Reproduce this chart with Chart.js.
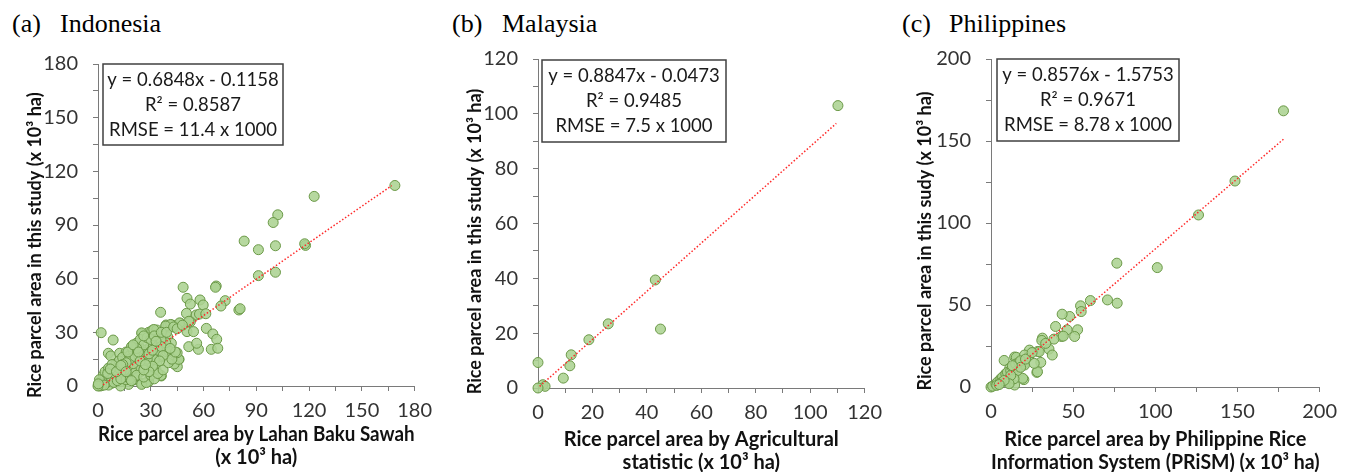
<!DOCTYPE html>
<html>
<head>
<meta charset="utf-8">
<script src="https://cdn.jsdelivr.net/npm/chart.js@4"></script>
<style>
  body { margin: 0; width: 1345px; height: 472px; overflow: hidden; background: #fff; position: relative; }
  .panel { position: absolute; top: 0; height: 472px; }
  .cap { position: absolute; top: 11px; font-family: 'Liberation Serif', 'Times New Roman', serif; font-size: 26px; line-height: 26px; color: #000; white-space: pre; }
</style>
</head>
<body>
<div class="cap" style="left:12px">(a)</div><div class="cap" style="left:60px">Indonesia</div>
<div class="cap" style="left:452px">(b)</div><div class="cap" style="left:502px">Malaysia</div>
<div class="cap" style="left:902px">(c)</div><div class="cap" style="left:949px">Philippines</div>

<div class="panel" style="left:0;width:440px"><canvas id="chartA"></canvas></div>
<div class="panel" style="left:450px;width:440px"><canvas id="chartB"></canvas></div>
<div class="panel" style="left:900px;width:445px"><canvas id="chartC"></canvas></div>

<script>
// (a) Indonesia: [Lahan Baku Sawah, this study] in 10^3 ha
var indonesiaPts = [
  [168.8,112.1],[122.9,106],[102.2,95.7],[99.6,91.4],[83.1,81],[91.2,76.2],[100.9,78.4],[118,78.6],[117.5,79.5],
  [91.2,61.7],[100.9,63.6],[48.4,55.2],[67.2,55.9],[66.8,55.2],[50.6,49],[52.5,45.8],[58,48.1],[59.8,45.3],
  [72.3,47.7],[69.9,44.7],[80.1,42.5],[80.8,43.2],[35.6,41.2],[50.3,40.6],[55.8,39.7],[57.7,40.2],[61.3,40.4],
  [38.7,34.1],[41.5,34.1],[47,35],[52.5,35.9],[50.6,30.4],[54.3,30.4],[61.6,32.2],[65.3,29.1],[67.5,26.1],
  [64.4,20.5],[68.1,21.1],[51.6,22],[57.1,20.5],[56.1,23.9],[31.4,30.9],[36.9,28.5],[39.6,27.5],[35.6,25.3],
  [43.3,18.3],[46.1,14.9],[45.1,10.8],[43.3,12.3],[36,5.6],[32.3,8.9],[38.7,20.1],[33.2,18.3],
  [1.8,29.8],[8.6,25.7],[5.9,18.3],[7.3,16.8],[12.3,18.3],[16,19],[25.1,29.1],[28.8,30],[30.6,30.9],[33.4,31.3],
  [39.8,33.5],[42.5,34],[24.2,21.1],[27,20.1],[29.7,22],[22.4,18.3],[20.5,14.5],[17.8,13.6],[15,11.7],[11.4,10.8],
  [7.7,8.9],[5,6.1],[2.2,3.4],[0.4,1],[4,1.5],[9.5,4.3],[14.1,5.2],[18.7,7.1],[24.2,8],[27.9,10.8],[33.4,12.7],
  [36.2,16.4],[38.9,19.2],[41.7,23.9],[33.4,22],[35.2,25.7],[31.6,16.4],[26,13.6],[16.9,7.1],[20.5,3.4],[25.1,1.5],
  [28.8,2.4],[13.2,2.4],[7.7,1.5],[24.8,0.9],[27.5,1.9],[17.4,0.9],[12.8,0],[35.8,5.9],[45.9,14.9],[45,18.6],
  [40.4,19.5],[38.5,24.2],[35.8,26],[30.3,24.2],[23,22.3],[26.6,18.6],[32.1,14.9],[28.4,11.2],[33,9.3],[19.3,11.2],
  [15.6,7.4],[21.1,5.6],[24.8,29.7],[46.4,35.3],[51.7,36.2],[41.3,34.4],[38.5,33.5],[31.7,31.6],
  [10,12],[12,14],[14,16],[18,17],[20,20],[22,24],[24,26],[26,23],[28,27],[30,26],[32,28],[34,20],[36,22],[30,19],
  [28,15],[25,17],[23,13],[21,10],[19,9],[17,11],[15,9],[13,8],[11,6],[9,7],[8,4],[6,3],[5,4.5],[4,2.5],[3,2],[2,1],
  [1,0.5],[0.5,0.2],[1.5,2.5],[3,4],[2.5,0.8],[6,0.5],[5,2],[7,5.5],[10,9],[12,10],[9,2],[11,3],[16,3.5],[18,4],
  [22,6],[26,5],[30,6],[32,4],[34,7],[37,9],[40,13],[42,15],[44,19],[41,21],[37,17],[35,14],[31,11],[29,8],[26,9],
  [23,16],[20,12.5],[18,15],[16,13],[14,12],[13,4],[3,6],[2,3],[1,1.8],[0.8,3.5],[4,8],[6,10],[8,12],[1.2,0],[2,0.2],
  [3.5,0.5],[0,0],[0.2,1.2],[5.5,7],[7,9.5],[10.5,8],[13,11.5],[16,8],[19,3],[21,16.5],[24,14],[27,12],[29,18],
  [31,20],[33,25],[36,30],[39,30],[43,33],[45,32],[48,34],[26,28],[22,21],[19,22],[17,19],[20,23],[23,19]
];
// (b) Malaysia: [Agricultural statistic, this study]
var malaysiaPts = [
  [110.2,103],[43.1,39.4],[45,21.5],[25.8,23.4],[18.7,17.6],[12.2,12.1],[11.7,8.1],[9.3,3.6],
  [0,9.3],[1.8,1.2],[2.6,0.6],[0,0]
];
// (c) Philippines: [PRiSM, this study]
var philippinesPts = [
  [178,168.4],[148.5,125.6],[126.3,104.9],[76.6,75.5],[101.2,72.8],[70.9,53.1],[76.8,51.1],[60.5,52.7],[54.5,49.5],
  [54.9,46],[47.9,43],[43.3,44.4],[39.3,36.9],[46.3,34.9],[52.7,34.9],[50.9,30.8],[42.9,30.8],[38.3,29.2],[31.3,29.8],
  [30.9,28.4],[35.3,23.1],[37.3,19.5],[28.5,21.7],[30.3,15],[27.9,8.9],[23,18.7],[19.8,14],[20,4.5],[14.4,18.3],
  [8,16.2],[33.3,26.6],[29.3,21.5],[23.4,22.5],[15.4,18.1],[20.4,19.5],[28.3,9.3],[19.3,5.3],[13.4,8.3],[16.3,12.4],
  [11.4,11.4],[8.4,7.3],[5.4,4.3],[2.4,1.2],[0,0],[10.4,3.2],[14.4,1.2],[20.4,13.4],[26.3,14.4],
  [1,0.5],[3,2],[4,3],[6,5],[7,6],[9,8],[10,9],[12,10],[13,12],[15,14],[17,15],[18,16],[16,10],[14,5],[12,7],
  [11,2],[6,2.5],[8,4],[3.5,1],[5,1.5],[18,12],[21,17],[13,13],[25,21],[44,31]
];

// linear trend line end points
var trendA = [[2.9,0.6],[167,112]];
var trendB = [[0.6,0.6],[109.6,96.5]];
var trendC = [[2.5,0.6],[178.5,151.5]];

var statsA = ['y = 0.6848x - 0.1158', 'R\u00B2 = 0.8587', 'RMSE = 11.4 x 1000'];
var statsB = ['y = 0.8847x - 0.0473', 'R\u00B2 = 0.9485', 'RMSE = 7.5 x 1000'];
var statsC = ['y = 0.8576x - 1.5753', 'R\u00B2 = 0.9671', 'RMSE = 8.78 x 1000'];

var toXY = function (arr) { return arr.map(function (p) { return { x: p[0], y: p[1] }; }); };

var statBox = {
  id: 'statBox',
  afterDraw: function (chart, args, o) {
    var ctx = chart.ctx, a = chart.chartArea;
    var x = a.left + o.dx, y = a.top + o.dy;
    ctx.save();
    ctx.fillStyle = '#fff';
    ctx.fillRect(x, y, o.w, o.h);
    ctx.strokeStyle = '#404040';
    ctx.lineWidth = 1.5;
    ctx.strokeRect(x, y, o.w, o.h);
    ctx.fillStyle = '#1a1a1a';
    ctx.font = '18.5px Lato';
    ctx.textAlign = 'center';
    ctx.textBaseline = 'middle';
    o.lines.forEach(function (t, i) { ctx.fillText(t, x + o.w / 2, y + 16 + i * 25); });
    ctx.restore();
  }
};

var axisColor = '#7a7a7a';

function makeChart(id, p) {
  var ctx = document.getElementById(id).getContext('2d');
  return new Chart(ctx, {
    type: 'scatter',
    data: {
      datasets: [{
        label: 'trend',
        type: 'line',
        data: toXY(p.trend),
        borderColor: '#ff2a2a',
        borderWidth: 1.5,
        borderDash: [1.5, 2],
        pointRadius: 0,
        fill: false,
        order: 0
      }, {
        label: 'parcels',
        data: toXY(p.pts),
        backgroundColor: 'rgba(172, 211, 146, 0.88)',
        borderColor: '#6a9846',
        borderWidth: 1,
        pointRadius: 5,
        clip: false,
        order: 1
      }]
    },
    options: {
      responsive: true,
      maintainAspectRatio: false,
      animation: false,
      layout: { padding: { left: 0, right: p.padRight, top: p.padTop, bottom: 0 } },
      plugins: {
        legend: { display: false },
        tooltip: { enabled: false },
        statBox: { lines: p.stats, dx: p.box[0], dy: p.box[1], w: p.box[2], h: p.box[3] }
      },
      scales: {
        x: {
          type: 'linear',
          min: 0, max: p.xMax,
          afterFit: function (s) { s.height = p.xHeight; },
          border: { display: true, color: axisColor, width: 1 },
          grid: { drawOnChartArea: false, drawTicks: true, tickLength: 5, color: axisColor },
          ticks: {
            stepSize: p.xStep, autoSkip: false, maxRotation: 0, padding: 8,
            color: '#333', font: { family: 'Lato', size: 20 },
            callback: function (v) { return v % p.xMajor === 0 ? v : ''; }
          },
          title: {
            display: true, text: p.xTitle, color: '#111',
            font: { family: 'Lato', size: 20, weight: 'bold', lineHeight: 1.15 },
            padding: { top: 0, bottom: p.xTitlePad }
          }
        },
        y: {
          type: 'linear',
          min: 0, max: p.yMax,
          afterFit: function (s) { s.width = p.yWidth; },
          border: { display: true, color: axisColor, width: 1 },
          grid: { drawOnChartArea: false, drawTicks: true, tickLength: 5, color: axisColor },
          ticks: {
            stepSize: p.yStep, autoSkip: false, padding: 15,
            color: '#333', font: { family: 'Lato', size: 20 },
            callback: function (v) { return v % p.yMajor === 0 ? v : ''; }
          },
          title: {
            display: true, text: p.yTitle, color: '#111',
            font: { family: 'Lato', size: 18, weight: 'bold', lineHeight: 1.2 },
            padding: { top: p.yTitlePad, bottom: 0 }
          }
        }
      }
    },
    plugins: [statBox]
  });
}

makeChart('chartA', {
  pts: indonesiaPts, trend: trendA, stats: statsA,
  xMax: 180, xStep: 15, xMajor: 30, yMax: 180, yStep: 15, yMajor: 30,
  padTop: 64, padRight: 15, yWidth: 98, xHeight: 86,
  xTitle: ['Rice parcel area by Lahan Baku Sawah', '(x 10\u00B3 ha)'], xTitlePad: 2.5,
  yTitle: 'Rice parcel area in this study (x 10\u00B3 ha)\u2002\u2002\u2002\u2002 ', yTitlePad: 24.2,
  box: [5, 0, 180, 81]
});

makeChart('chartB', {
  pts: malaysiaPts, trend: trendB, stats: statsB,
  xMax: 120, xStep: 10, xMajor: 20, yMax: 120, yStep: 10, yMajor: 20,
  padTop: 59, padRight: 14, yWidth: 88, xHeight: 84,
  xTitle: ['Rice parcel area by Agricultural', 'statistic (x 10\u00B3 ha)'], xTitlePad: -2.5,
  yTitle: 'Rice parcel area in this study (x 10\u00B3 ha)\u2002\u2002\u2002\u2002', yTitlePad: 14.2,
  box: [4, 1, 184, 82]
});

makeChart('chartC', {
  pts: philippinesPts, trend: trendC, stats: statsC,
  xMax: 200, xStep: 25, xMajor: 50, yMax: 200, yStep: 25, yMajor: 50,
  padTop: 59, padRight: 20, yWidth: 91, xHeight: 85,
  xTitle: ['Rice parcel area by Philippine Rice', 'Information System (PRiSM) (x 10\u00B3 ha)'], xTitlePad: -2.5,
  yTitle: 'Rice parcel area in this sudy (x 10\u00B3 ha)\u2002\u2002\u2002\u2002', yTitlePad: 14.2,
  box: [6, 0, 182, 82]
});
</script>
</body>
</html>
